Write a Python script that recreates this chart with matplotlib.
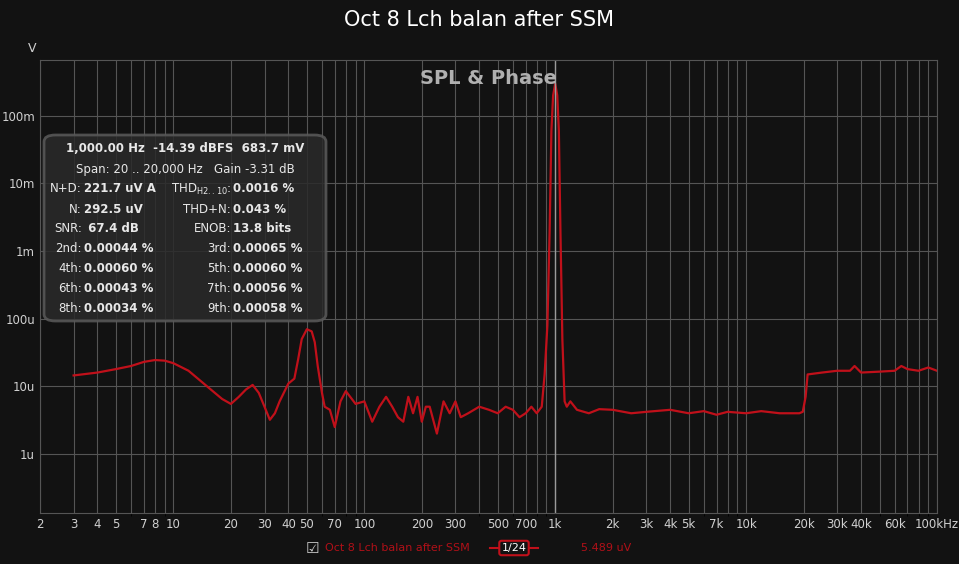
import matplotlib.pyplot as plt
from matplotlib.patches import FancyBboxPatch
import numpy as np

freq = [3, 4, 5, 6, 7, 8, 9, 10, 12, 15, 18, 20, 22, 24, 26, 28, 30, 32, 34, 36, 40, 43, 45,
        47, 50, 53, 55, 57, 60, 62, 66, 70,
        75, 80, 90, 100, 110, 120, 130, 140, 150, 160, 170, 180, 190, 200, 210, 220, 240,
        260, 280, 300, 320, 350, 400, 450, 500, 550, 600, 650, 700, 750, 800, 850, 880,
        910, 935, 955, 975, 1000, 1025, 1045, 1065, 1090, 1120, 1150, 1200, 1300, 1500, 1700,
        2000, 2500, 3000, 4000, 5000, 6000, 7000, 8000, 10000, 12000, 15000, 19000, 19800,
        20500, 21000, 25000, 30000, 35000, 37000, 40000, 50000, 60000, 65000, 70000, 80000,
        90000, 100000]
volts_u = [14.5, 16, 18, 20, 23, 24.5, 24, 22, 17, 10, 6.5, 5.5, 7, 9, 10.5, 8, 5, 3.2, 4,
           6, 11, 13, 25, 50, 70, 65, 45, 20, 8, 5, 4.5, 2.5, 6, 8.5, 5.5, 6, 3, 5, 7, 5,
           3.5, 3, 7, 4, 7, 3, 5, 5, 2, 6, 4, 6, 3.5, 4, 5, 4.5, 4, 5, 4.5, 3.5, 4, 5, 4, 5,
           15, 80, 2000, 60000, 200000, 300000, 200000, 60000, 2000, 50, 6, 5, 6, 4.5, 4, 4.6,
           4.5, 4, 4.2, 4.5, 4, 4.3, 3.8, 4.2, 4, 4.3, 4, 4, 4.2, 7, 15, 16, 17, 17, 20, 16,
           16.5, 17, 20, 18, 17, 19, 17]
volts = np.array(volts_u) * 1e-6

bg = "#121212"
fig = plt.figure(figsize=(9.59, 5.64), dpi=100, facecolor=bg)
ax = fig.add_axes([40 / 959, 1 - 513 / 564, 897 / 959, 453 / 564], facecolor=bg)
ax.set_xscale("log")
ax.set_yscale("log")
ax.set_xlim(2, 100000)
ax.set_ylim(1.34e-7, 0.67)
ax.plot(freq, volts, color="#c0101a", lw=1.6)

ax.set_yticks([1e-6, 1e-5, 1e-4, 1e-3, 1e-2, 1e-1])
ax.set_yticklabels(["1u", "10u", "100u", "1m", "10m", "100m"])
ax.yaxis.set_minor_locator(plt.NullLocator())
xt = [2, 3, 4, 5, 7, 8, 10, 20, 30, 40, 50, 70, 100, 200, 300, 500, 700, 1000, 2000,
      3000, 4000, 5000, 7000, 10000, 20000, 30000, 40000, 60000, 100000]
xl = ["2", "3", "4", "5", "7", "8", "10", "20", "30", "40", "50", "70", "100", "200", "300",
      "500", "700", "1k", "2k", "3k", "4k", "5k", "7k", "10k", "20k", "30k", "40k", "60k", "100kHz"]
ax.set_xticks(xt)
ax.set_xticklabels(xl)
ax.tick_params(colors="#d0d0d0", labelsize=8.5, length=0)
ax.grid(True, which="both", axis="x", color="#555555", lw=0.8)
ax.grid(True, which="major", axis="y", color="#555555", lw=0.8)
ax.axvline(1000, color="#9a9a9a", lw=1)
for s in ax.spines.values():
    s.set_color("#555555")

fig.text(0.5, 0.965, "Oct 8 Lch balan after SSM", ha="center", va="center", color="white", fontsize=15)
fig.text(32 / 959, 1 - 48 / 564, "V", ha="center", va="center", color="#d0d0d0", fontsize=9)
ax.text(0.5, 0.96, "SPL & Phase", transform=ax.transAxes, ha="center", va="center",
        color="#b0b0b0", fontsize=14, fontweight="bold")

box = FancyBboxPatch((44 / 959, 1 - 321 / 564), 282 / 959, 186 / 564, transform=fig.transFigure,
                     boxstyle="round,pad=0,rounding_size=0.012", facecolor="#2a2a2a", alpha=0.85,
                     edgecolor="#5a5a5a", lw=2)
fig.patches.append(box)
tc = "#e8e8e8"
fig.text(185 / 959, 1 - 148 / 564, "1,000.00 Hz  -14.39 dBFS  683.7 mV", ha="center", va="center",
         color=tc, fontsize=8.5, fontweight="bold")
fig.text(185 / 959, 1 - 169 / 564, "Span: 20 .. 20,000 Hz   Gain -3.31 dB", ha="center", va="center",
         color=tc, fontsize=8.5)
left = [("N+D:", "221.7 uV A"), ("N:", "292.5 uV"), ("SNR:", " 67.4 dB"), ("2nd:", "0.00044 %"),
        ("4th:", "0.00060 %"), ("6th:", "0.00043 %"), ("8th:", "0.00034 %")]
right = [("THD$_{\\mathregular{H2..10}}$:", "0.0016 %"), ("THD+N:", "0.043 %"), ("ENOB:", "13.8 bits"),
         ("3rd:", "0.00065 %"), ("5th:", "0.00060 %"), ("7th:", "0.00056 %"), ("9th:", "0.00058 %")]
for i, ((a, b), (c, d)) in enumerate(zip(left, right)):
    y = 1 - (189 + 20 * i) / 564
    fig.text(82 / 959, y, a, ha="right", va="center", color=tc, fontsize=8.5)
    fig.text(84 / 959, y, b, ha="left", va="center", color=tc, fontsize=8.5, fontweight="bold")
    fig.text(231 / 959, y, c, ha="right", va="center", color=tc, fontsize=8.5)
    fig.text(233 / 959, y, d, ha="left", va="center", color=tc, fontsize=8.5, fontweight="bold")

fig.text(312 / 959, 1 - 548 / 564, "\u2611", ha="center", va="center", color="#cccccc", fontsize=11)
fig.text(325 / 959, 1 - 548 / 564, "Oct 8 Lch balan after SSM", ha="left", va="center",
         color="#b01018", fontsize=8)
fig.lines.append(plt.Line2D([490 / 959, 538 / 959], [1 - 548 / 564] * 2, transform=fig.transFigure,
                            color="#c0101a", lw=1.5))
fig.text(514 / 959, 1 - 548 / 564, "1/24", ha="center", va="center", color="white", fontsize=8,
         bbox=dict(boxstyle="round,pad=0.2", fc=bg, ec="#c0101a", lw=1.5))
fig.text(581 / 959, 1 - 548 / 564, "5.489 uV", ha="left", va="center", color="#b01018", fontsize=8)

fig.savefig("out.png", dpi=100, facecolor=bg)
